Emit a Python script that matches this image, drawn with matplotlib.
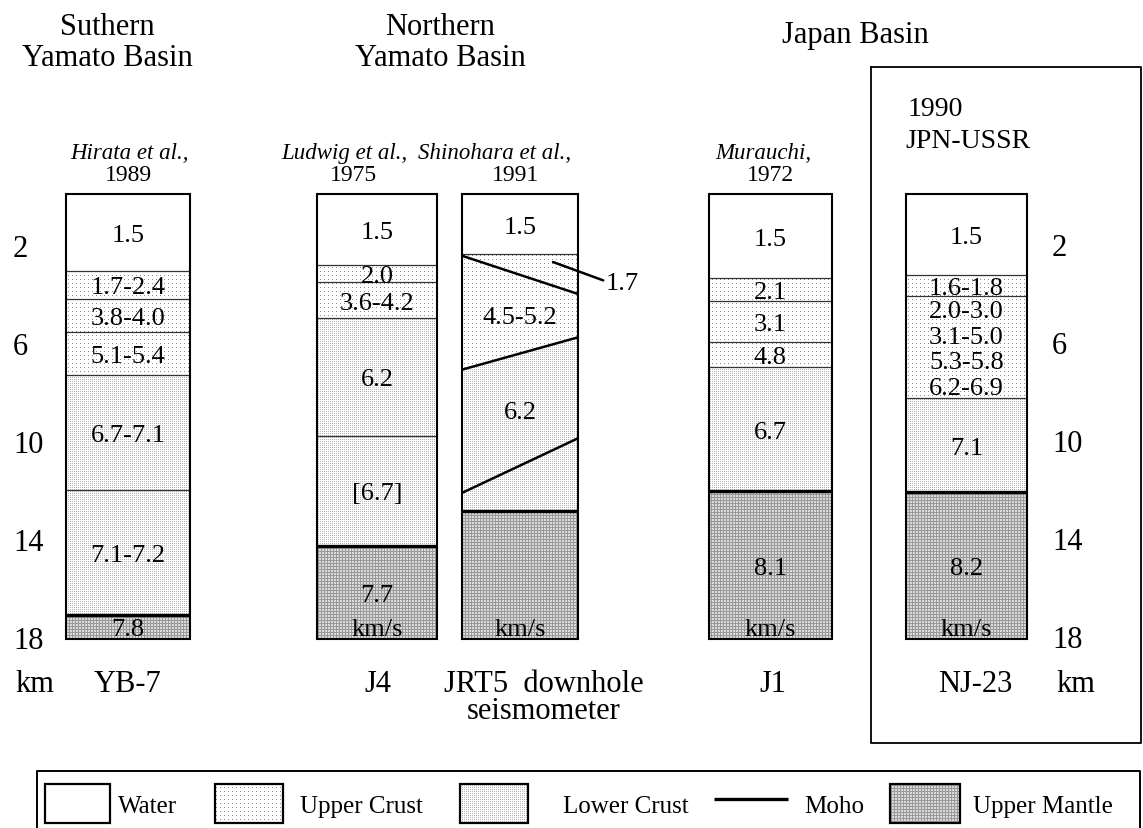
import numpy as np
import matplotlib
matplotlib.use("Agg")
import matplotlib.pyplot as plt
from matplotlib.patches import Polygon, Rectangle
from matplotlib.path import Path

# layer boundaries (km) and P-wave velocities
yb7_depths = [0.0, 3.13, 4.29, 5.65, 7.39, 12.07, 17.17, 18.16]
yb7_types = ["water", "upper", "upper", "upper", "lower", "lower", "mantle"]
yb7_vel = [["1.5"], ["1.7-2.4"], ["3.8-4.0"], ["5.1-5.4"], ["6.7-7.1"], ["7.1-7.2"], ["7.8"]]

j4_depths = [0.0, 2.88, 3.61, 5.07, 9.86, 14.35, 18.16]
j4_types = ["water", "upper", "upper", "lower", "lower", "mantle"]
j4_vel = [["1.5"], ["2.0"], ["3.6-4.2"], ["6.2"], ["[6.7]"], ["7.7"]]

# JRT5 has dipping boundaries: depth at the left and right edge
jrt5_left = [0.0, 2.45, 2.52, 7.17, 12.2, 12.95, 18.16]
jrt5_right = [0.0, 2.45, 4.08, 5.85, 9.97, 12.95, 18.16]
jrt5_types = ["water", "upper", "upper", "lower", "lower", "mantle"]
jrt5_vel = [["1.5"], [], ["4.5-5.2"], ["6.2"], [], []]
jrt5_callout = "1.7"

j1_depths = [0.0, 3.43, 4.38, 6.03, 7.07, 12.14, 18.16]
j1_types = ["water", "upper", "upper", "upper", "lower", "mantle"]
j1_vel = [["1.5"], ["2.1"], ["3.1"], ["4.8"], ["6.7"], ["8.1"]]

nj23_depths = [0.0, 3.31, 4.15, 8.34, 12.18, 18.16]
nj23_types = ["water", "upper", "upper", "lower", "mantle"]
nj23_vel = [["1.5"], ["1.6-1.8"], ["2.0-3.0", "3.1-5.0", "5.3-5.8", "6.2-6.9"], ["7.1"], ["8.2"]]

stations = ["YB-7", "J4", "JRT5  downhole\nseismometer", "J1", "NJ-23"]
ref_names = ["Hirata et al.,", "Ludwig et al.,", "Shinohara et al.,", "Murauchi,"]
ref_years = ["1989", "1975", "1991", "1972"]
show_units = [False, True, True, True, True]
depth_ticks = [2, 6, 10, 14, 18]
regions = ["Suthern\nYamato Basin", "Northern\nYamato Basin", "Japan Basin"]
legend_labels = ["Water", "Upper Crust", "Lower Crust", "Moho", "Upper Mantle"]
legend_kinds = ["water", "upper", "lower", "moho", "mantle"]

W, H = 1143, 829
TOP_PX, PX_PER_KM = 195, 24.5
plt.rcParams["font.family"] = ["Liberation Serif", "DejaVu Serif"]


def km(py):
    # figure pixel row -> depth in km
    return (py - TOP_PX) / PX_PER_KM


def ptext(x, y, s, **kw):
    kw.setdefault("ha", "center")
    kw.setdefault("va", "center_baseline")
    fig.text(x / W, 1 - y / H, s, **kw)


fig = plt.figure(figsize=(W / 100, H / 100), dpi=100)
ax = fig.add_axes([0, 0, 1, 1])
ax.set_axis_off()

columns = [
    ((66, 190), yb7_depths, yb7_depths, yb7_types, yb7_vel),
    ((317, 437), j4_depths, j4_depths, j4_types, j4_vel),
    ((462, 578), jrt5_left, jrt5_right, jrt5_types, jrt5_vel),
    ((709, 832), j1_depths, j1_depths, j1_types, j1_vel),
    ((906, 1027), nj23_depths, nj23_depths, nj23_types, nj23_vel),
]

polys = {"water": [], "upper": [], "lower": [], "mantle": []}

for ci, ((x0, x1), dl, dr, types, vels) in enumerate(columns):
    xc = (x0 + x1) / 2
    for i, kind in enumerate(types):
        verts = [(x0, dl[i]), (x1, dr[i]), (x1, dr[i + 1]), (x0, dl[i + 1])]
        polys[kind].append(verts)
        top = (dl[i] + dr[i]) / 2
        bot = (dl[i + 1] + dr[i + 1]) / 2
        n = len(vels[i])
        for k, s in enumerate(vels[i]):
            y = top + (k + 0.5) / n * (bot - top)
            ax.text(xc, y, s, fontsize=19, ha="center", va="center_baseline", zorder=5)
    # internal boundaries
    for i in range(1, len(types)):
        if types[i] == "mantle":
            lw, col = 2.4, "black"
        elif dl[i] != dr[i]:
            lw, col = 1.8, "black"
        else:
            lw, col = 0.9, "#333333"
        ax.plot([x0, x1], [dl[i], dr[i]], color=col, lw=lw, solid_capstyle="butt", zorder=3)
    ax.add_patch(Rectangle((x0, 0), x1 - x0, dl[-1], fill=False, ec="black", lw=1.5, zorder=4))
    if show_units[ci]:
        ax.text(xc, dl[-1] - 0.5, "km/s", fontsize=19, ha="center", va="center_baseline", zorder=5)

# call-out for the thin wedge in JRT5
ax.annotate(jrt5_callout, xy=(553, km(263)), xytext=(606, km(281)), fontsize=19,
            ha="left", va="center_baseline", zorder=5,
            arrowprops=dict(arrowstyle="-", lw=1.8, color="black", shrinkA=0, shrinkB=0,
                            relpos=(0, 0.55)))

# legend swatches (pixel layout converted to km for the y axis)
sw_top, sw_bot = 785, 824
legend_x = [(45, 110, 118), (215, 283, 300), (460, 528, 563), (714, 788, 804), (890, 960, 973)]
for (lx0, lx1, tx), kind, lab in zip(legend_x, legend_kinds, legend_labels):
    if kind == "moho":
        ax.plot([lx0, lx1], [km(800), km(800)], color="black", lw=2.4, solid_capstyle="butt")
    else:
        verts = [(lx0, km(sw_top)), (lx1, km(sw_top)), (lx1, km(sw_bot)), (lx0, km(sw_bot))]
        polys[kind].append(verts)
        ax.add_patch(Polygon(verts, closed=True, fill=False, ec="black", lw=1.6, zorder=4))
    ptext(tx, 805, lab, fontsize=18, ha="left")

# fills
for verts in polys["water"]:
    ax.add_patch(Polygon(verts, closed=True, fc="white", ec="none", zorder=1))

yy, xx = np.mgrid[0:H, 0:W]
textures = {
    "upper": np.where((xx % 4 == 0) & (yy % 4 == 0), 0.55, 1.0),
    "lower": np.where((xx % 2 == 0) & (yy % 2 == 0), 0.70, 1.0),
    "mantle": np.where((xx % 3 == 0) | (yy % 3 == 0), 0.60, 0.85),
}
for kind, tex in textures.items():
    im = ax.imshow(tex, cmap="gray", vmin=0, vmax=1, extent=(0, W, km(H), km(0)),
                   interpolation="nearest", aspect="auto", zorder=1)
    paths = [Path(np.array(v + [v[0]]), closed=True) for v in polys[kind]]
    im.set_clip_path(Path.make_compound_path(*paths), ax.transData)

# frames: JPN-USSR box and legend box
ax.plot([871, 1141, 1141, 871, 871], [km(68), km(68), km(744), km(744), km(68)],
        color="black", lw=1.3, clip_on=False)
ax.plot([37, 37, 1140, 1140], [km(840), km(772), km(772), km(840)],
        color="black", lw=1.4, clip_on=False)

ax.set_xlim(0, W)
ax.set_ylim(km(H), km(0))

# depth scales on both sides
for d in depth_ticks:
    ax.text(13, d + 0.1, str(d), fontsize=22, ha="left", va="center_baseline")
    ax.text(1052, d + 0.05, str(d), fontsize=22, ha="left", va="center_baseline")
ptext(15, 681, "km", fontsize=22, ha="left")
ptext(1056, 681, "km", fontsize=22, ha="left")

# headers
for s, x in zip(regions, [107, 440, 855]):
    lines = s.split("\n")
    y0 = 24 if len(lines) > 1 else 32
    for j, line in enumerate(lines):
        ptext(x, y0 + 31 * j, line, fontsize=22)
ptext(935, 107, "1990", fontsize=20)
ptext(968, 138, "JPN-USSR", fontsize=20)

for name, year, nx, yx in zip(ref_names, ref_years, [129, 344, 495, 763], [128, 353, 516, 770]):
    ptext(nx, 151, name, fontsize=16.5, style="italic")
    ptext(yx, 173, year, fontsize=17)

for s, x in zip(stations, [128, 378, 544, 773, 975]):
    ptext(x, 670, s, fontsize=22, va="top", linespacing=0.92)

fig.savefig("out.png", dpi=100)
